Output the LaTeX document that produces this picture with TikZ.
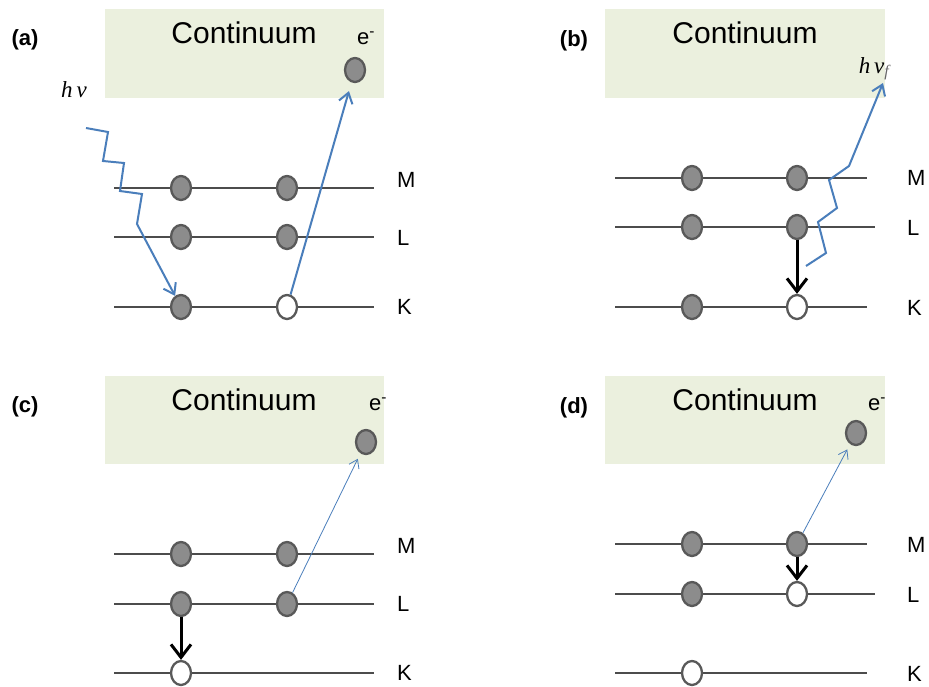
\documentclass[tikz,border=0pt]{standalone}
\usepackage{fontspec}
\setmainfont{Liberation Sans}
\newfontfamily\photonfont{Liberation Serif}
\usetikzlibrary{arrows.meta, positioning, shapes.geometric}

\definecolor{contfill}{RGB}{235,240,222}
\definecolor{photon}{RGB}{74,126,187}

\begin{document}
\begin{tikzpicture}[x=1pt, y=-1pt,
            elec/.style={ellipse, draw=black!65, line width=2.3pt, fill=black!45,
                         minimum width=20pt, minimum height=24pt, inner sep=0pt},
            hole/.style={elec, fill=white},
            level/.style={black!70, line width=1.3pt},
            shell/.style={anchor=west, inner sep=0pt, font=\fontsize{22}{24}\selectfont},
            panel/.style={inner sep=0pt, font=\bfseries\fontsize{22}{24}\selectfont},
            conttext/.style={inner sep=0pt, font=\fontsize{30}{32}\selectfont},
            eminus/.style={inner sep=0pt, font=\fontsize{22}{24}\selectfont},
            energy/.style={anchor=base, inner sep=0pt, font=\photonfont\itshape\fontsize{23}{25}\selectfont},
            ray/.style={photon, line width=2pt, -{Straight Barb[length=10pt, width=14pt]}},
            thinray/.style={photon, line width=0.8pt, -{Straight Barb[length=8pt, width=11pt]}},
            drop/.style={black, line width=3pt, -{Straight Barb[length=13pt, width=20pt]}}
        ]

        \fill[white] (0,0) rectangle (929,686);
        \useasboundingbox (0,0) rectangle (929,686);

        % Continuum boxes
        \fill[contfill] (105,9) rectangle (384,98);
        \fill[contfill] (605,9) rectangle (885,98);
        \fill[contfill] (105,376) rectangle (384,464);
        \fill[contfill] (605,376) rectangle (885,464);

        \node[conttext] (conta) at (244,33) {Continuum};
        \node[conttext] (contb) at (745,33) {Continuum};
        \node[conttext] (contc) at (244,400) {Continuum};
        \node[conttext] (contd) at (745,400) {Continuum};

        \node[panel] (pa) at (25,40) {(a)};
        \node[panel] (pb) at (574,41) {(b)};
        \node[panel] (pc) at (25,407) {(c)};
        \node[panel] (pd) at (574,408) {(d)};

        % Shell lines
        \coordinate (Ma1) at (114,188); \coordinate (Ma2) at (374,188);
        \coordinate (La1) at (114,237); \coordinate (La2) at (374,237);
        \coordinate (Ka1) at (114,307); \coordinate (Ka2) at (374,307);
        \coordinate (Mb1) at (615,178); \coordinate (Mb2) at (867,178);
        \coordinate (Lb1) at (615,227); \coordinate (Lb2) at (875,227);
        \coordinate (Kb1) at (615,307); \coordinate (Kb2) at (867,307);
        \coordinate (Mc1) at (114,554); \coordinate (Mc2) at (374,554);
        \coordinate (Lc1) at (114,604); \coordinate (Lc2) at (374,604);
        \coordinate (Kc1) at (114,673); \coordinate (Kc2) at (374,673);
        \coordinate (Md1) at (615,544); \coordinate (Md2) at (867,544);
        \coordinate (Ld1) at (615,594); \coordinate (Ld2) at (875,594);
        \coordinate (Kd1) at (615,673); \coordinate (Kd2) at (867,673);

        \draw[level] (Ma1) -- (Ma2);  \draw[level] (La1) -- (La2);  \draw[level] (Ka1) -- (Ka2);
        \draw[level] (Mb1) -- (Mb2);  \draw[level] (Lb1) -- (Lb2);  \draw[level] (Kb1) -- (Kb2);
        \draw[level] (Mc1) -- (Mc2);  \draw[level] (Lc1) -- (Lc2);  \draw[level] (Kc1) -- (Kc2);
        \draw[level] (Md1) -- (Md2);  \draw[level] (Ld1) -- (Ld2);  \draw[level] (Kd1) -- (Kd2);

        \node[shell] (sMa) at (397,180) {M};
        \node[shell] (sLa) at (397,238) {L};
        \node[shell] (sKa) at (397,307) {K};
        \node[shell] (sMb) at (907,178) {M};
        \node[shell] (sLb) at (907,228) {L};
        \node[shell] (sKb) at (907,308) {K};
        \node[shell] (sMc) at (397,546) {M};
        \node[shell] (sLc) at (397,604) {L};
        \node[shell] (sKc) at (397,673) {K};
        \node[shell] (sMd) at (907,545) {M};
        \node[shell] (sLd) at (907,595) {L};
        \node[shell] (sKd) at (907,674) {K};

        % Electrons and holes
        \node[elec] (ma1) at (181,188) {};  \node[elec] (ma2) at (287,188) {};
        \node[elec] (la1) at (181,237) {};  \node[elec] (la2) at (287,237) {};
        \node[elec] (ka1) at (181,307) {};  \node[hole] (ka2) at (287,307) {};
        \node[elec] (ea) at (355,70) {};
        \node[eminus] (ta) at (366,38) {e\textsuperscript{-}};

        \node[elec] (mb1) at (692,178) {};  \node[elec] (mb2) at (797,178) {};
        \node[elec] (lb1) at (692,227) {};  \node[elec] (lb2) at (797,227) {};
        \node[elec] (kb1) at (692,307) {};  \node[hole] (kb2) at (797,307) {};

        \node[elec] (mc1) at (181,554) {};  \node[elec] (mc2) at (287,554) {};
        \node[elec] (lc1) at (181,604) {};  \node[elec] (lc2) at (287,604) {};
        \node[hole] (kc1) at (181,673) {};
        \node[elec] (ec) at (366,442) {};
        \node[eminus] (tc) at (378,404) {e\textsuperscript{-}};

        \node[elec] (md1) at (692,544) {};  \node[elec] (md2) at (797,544) {};
        \node[elec] (ld1) at (692,594) {};  \node[hole] (ld2) at (797,594) {};
        \node[hole] (kd1) at (692,673) {};
        \node[elec] (ed) at (856,433) {};
        \node[eminus] (td) at (877,404) {e\textsuperscript{-}};

        % Photons in and out
        \node[energy] (hnua) at (74,97) {h\,ν};
        \coordinate (ina) at (86,128);
        \draw[ray] (ina) -- ++(22,4) -- ++(-5,29) -- ++(21,2) -- ++(-4,28)
            -- ++(22,3) -- ++(-5,30) -- (ka1);

        \node[energy] (hnub) at (874,73) {h\,ν\textsubscript{\color{black!60}f}};
        \coordinate (outb) at (806,266);
        \coordinate (tipb) at (883,83);
        \draw[ray] (outb) -- ++(20,-13) -- ++(-8,-31) -- ++(19,-14) -- ++(-8,-28)
            -- ++(20,-14) -- (tipb);

        % Transitions
        \draw[ray, shorten >=9pt] (ka2) -- (ea);
        \draw[drop] (lb2) -- (kb2);
        \draw[drop] (lc1) -- (kc1);
        \draw[thinray, shorten >=6pt] (lc2) -- (ec);
        \draw[drop] (md2) -- (ld2);
        \draw[thinray, shorten >=6pt] (md2) -- (ed);

    \end{tikzpicture}
\end{document}
